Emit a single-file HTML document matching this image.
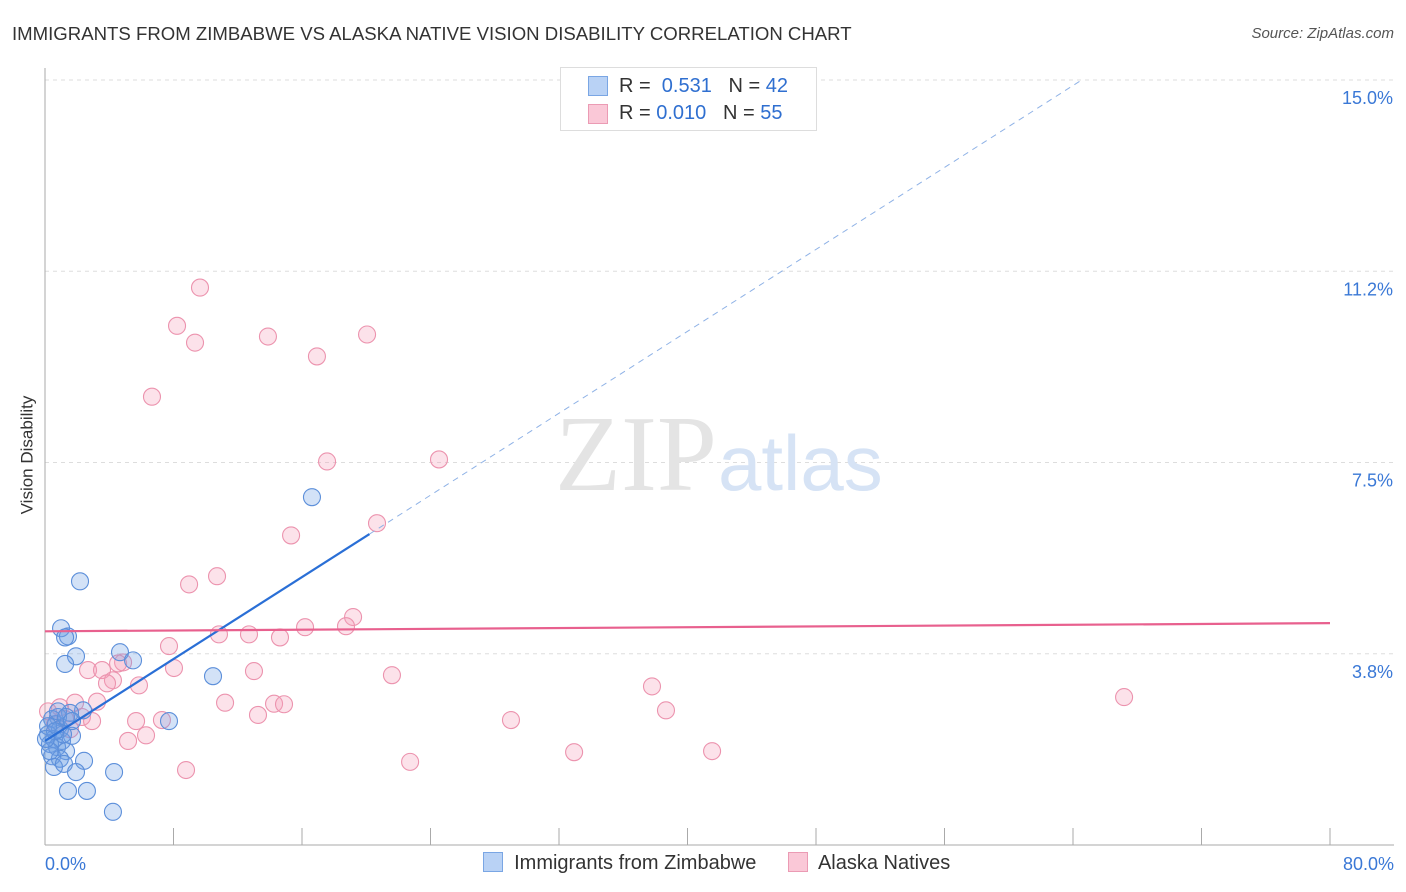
<!DOCTYPE html>
<html><head><meta charset="utf-8"><style>
body{margin:0;background:#fff;font-family:"Liberation Sans",sans-serif;}
#c{position:relative;width:1406px;height:892px;overflow:hidden}
.t{position:absolute;white-space:nowrap}
</style></head><body>
<div id="c">
<div class="t" style="left:12px;top:23px;font-size:18.6px;color:#333">IMMIGRANTS FROM ZIMBABWE VS ALASKA NATIVE VISION DISABILITY CORRELATION CHART</div>
<div class="t" style="right:12px;top:25px;font-size:15px;color:#555;font-style:italic">Source: ZipAtlas.com</div>
<div class="t" style="left:-32px;top:445px;font-size:17px;color:#333;transform:rotate(-90deg)">Vision Disability</div>
<svg id="s" width="1406" height="892" style="position:absolute;left:0;top:0"></svg>
<div class="t" style="left:560px;top:67px;width:255px;height:62px;border:1px solid #ddd;background:#fff;font-size:20px;color:#333">
<div style="position:absolute;left:27px;top:8px;width:18px;height:18px;background:#b9d2f5;border:1px solid #7aa6e4"></div>
<div class="t" style="left:58px;top:7px">R = <span style="color:#2f6fd0">&nbsp;0.531</span>&nbsp;&nbsp;&nbsp;N = <span style="color:#2f6fd0">42</span></div>
<div style="position:absolute;left:27px;top:36px;width:18px;height:18px;background:#fac8d7;border:1px solid #eb9bb4"></div>
<div class="t" style="left:58px;top:34px">R = <span style="color:#2f6fd0">0.010</span>&nbsp;&nbsp;&nbsp;N = <span style="color:#2f6fd0">55</span></div>
</div>
<div class="t" style="left:483px;top:852px;font-size:20px;color:#333">
<span style="display:inline-block;width:18px;height:18px;background:#b9d2f5;border:1px solid #7aa6e4;vertical-align:-3px"></span>&nbsp; Immigrants from Zimbabwe
<span style="display:inline-block;width:18px;height:18px;background:#fac8d7;border:1px solid #eb9bb4;vertical-align:-3px;margin-left:26px"></span>&nbsp; Alaska Natives</div>
</div>
<script>
const blueX=[2.18,1.00,1.43,1.25,1.93,1.25,4.67,5.48,10.46,16.62,7.72,2.37,1.56,0.81,0.44,0.68,0.93,0.19,0.56,1.06,1.68,0.31,0.75,1.31,0.44,0.93,2.43,0.56,1.18,1.93,4.30,1.43,2.61,4.23,0.19,0.81,1.12,0.31,1.31,0.62,1.68,0.06];
const blueY=[5.17,4.25,4.09,4.07,3.70,3.55,3.78,3.62,3.31,6.82,2.43,2.64,2.59,2.51,2.47,2.37,2.27,2.17,2.08,2.04,2.14,1.98,1.92,1.84,1.74,1.69,1.65,1.53,1.59,1.43,1.43,1.06,1.06,0.65,2.33,2.62,2.17,1.84,2.51,2.23,2.43,2.08];
const pinkX=[9.65,8.22,9.34,13.88,20.05,16.93,6.66,17.56,24.53,20.67,15.32,10.71,8.97,19.18,18.74,16.19,12.70,10.83,14.63,7.72,4.86,4.55,8.03,2.68,3.55,13.01,21.60,4.23,3.86,5.85,37.79,3.24,1.87,11.21,14.26,14.88,38.66,67.18,13.26,29.01,5.67,7.28,2.30,2.93,0.93,0.19,1.56,6.29,5.17,32.94,41.53,22.73,8.78,0.62,1.25];
const pinkY=[10.93,10.18,9.85,9.97,10.01,9.58,8.79,7.52,7.56,6.31,6.07,5.27,5.11,4.47,4.29,4.27,4.13,4.13,4.07,3.90,3.58,3.56,3.47,3.43,3.43,3.41,3.33,3.23,3.17,3.13,3.11,2.81,2.79,2.79,2.77,2.76,2.64,2.90,2.55,2.45,2.43,2.45,2.51,2.43,2.70,2.62,2.27,2.15,2.04,1.82,1.84,1.63,1.47,2.37,2.47];
const blueTrend=[2.04,0.2008]; // intercept, slope
const pinkTrend=[4.19,0.002];
const yTicks=[3.75,7.5,11.25,15];
const yTickLabels=["3.8%","7.5%","11.2%","15.0%"];
const xTickVals=[0,8,16,24,32,40,48,56,64,72,80];
const X=v=>45+v/80*1285, Y=v=>845-v/15*765;
const s=document.getElementById('s');const NS='http://www.w3.org/2000/svg';
function el(t,a,n){const e=document.createElementNS(NS,t);for(const k in a)e.setAttribute(k,a[k]);s.appendChild(e);return e;}
yTicks.forEach((t,i)=>{const g=el('line',{x1:45,x2:1394,y1:Y(t),y2:Y(t),stroke:'#ddd','stroke-dasharray':'4,4'});


const tx=el('text',{x:1393,y:Y(t)+24,'text-anchor':'end','font-size':18,fill:'#3a78d6','font-family':'Liberation Sans'});tx.textContent=yTickLabels[i];

});
el('line',{x1:45,x2:45,y1:68,y2:845,stroke:'#aaa'});
el('line',{x1:45,x2:1394,y1:845,y2:845,stroke:'#aaa'});
xTickVals.forEach(v=>{const l=el('line',{x1:X(v),x2:X(v),y1:828,y2:845,stroke:'#aaa'});

});
[["0.0%",45,'start'],["80.0%",1394,'end']].forEach(a=>{const t=el('text',{x:a[1],y:870,'text-anchor':a[2],'font-size':18,fill:'#3a78d6','font-family':'Liberation Sans'});t.textContent=a[0];

});
const w1=el('text',{x:555,y:490,'font-size':108,fill:'#e4e4e4','font-family':'Liberation Serif'});w1.textContent='ZIP';


const w2=el('text',{x:718,y:490,'font-size':78,fill:'#d6e3f5','font-family':'Liberation Sans'});w2.textContent='atlas';
pinkX.forEach((x,i)=>{const c=el('circle',{cx:X(x),cy:Y(pinkY[i]),r:8.5,fill:'rgba(245,160,185,0.3)',stroke:'#ec93ae','stroke-width':1.1});

});
blueX.forEach((x,i)=>{const c=el('circle',{cx:X(x),cy:Y(blueY[i]),r:8.5,fill:'rgba(110,160,230,0.3)',stroke:'#5c8fda','stroke-width':1.1});

});
const bx=20.2, bxe=(15-blueTrend[0])/blueTrend[1];
const bl=el('line',{x1:X(0),y1:Y(blueTrend[0]),x2:X(bx),y2:Y(blueTrend[0]+blueTrend[1]*bx),stroke:'#2a6fd6','stroke-width':2.2});


const bd=el('line',{x1:X(bx),y1:Y(blueTrend[0]+blueTrend[1]*bx),x2:X(bxe),y2:Y(15),stroke:'#8fb2e6','stroke-width':1,'stroke-dasharray':'6,5'});


const pl=el('line',{x1:X(0),y1:Y(pinkTrend[0]),x2:X(80),y2:Y(pinkTrend[0]+pinkTrend[1]*80),stroke:'#e8608e','stroke-width':2.2});


</script>
</body></html>
